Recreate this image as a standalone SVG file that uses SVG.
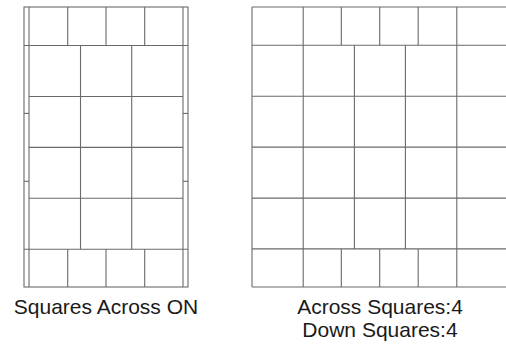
<svg xmlns="http://www.w3.org/2000/svg" width="506" height="345" viewBox="0 0 506 345">
<style>
.g line, .g rect { stroke: #6a6a6a; stroke-width: 1.1; fill: none; }
.t { font-family: "Liberation Sans", Arial, sans-serif; font-size: 21px; fill: #1a1a1a; text-anchor: middle; }
</style>
<rect width="506" height="345" fill="#ffffff"/>
<g id="left-diagram" class="g">
  <rect x="24" y="7" width="164" height="280"/>
  <line x1="29" y1="7" x2="29" y2="287"/>
  <line x1="183" y1="7" x2="183" y2="287"/>
  <line x1="24" y1="45.5" x2="188" y2="45.5"/>
  <line x1="24" y1="249.3" x2="188" y2="249.3"/>
  <line x1="29" y1="96.5" x2="183" y2="96.5"/>
  <line x1="29" y1="147.4" x2="183" y2="147.4"/>
  <line x1="29" y1="198.3" x2="183" y2="198.3"/>
  <line x1="24" y1="113.4" x2="29" y2="113.4"/>
  <line x1="24" y1="181.3" x2="29" y2="181.3"/>
  <line x1="183" y1="113.4" x2="188" y2="113.4"/>
  <line x1="183" y1="181.3" x2="188" y2="181.3"/>
  <line x1="67.7" y1="7" x2="67.7" y2="45.5"/>
  <line x1="106" y1="7" x2="106" y2="45.5"/>
  <line x1="144.7" y1="7" x2="144.7" y2="45.5"/>
  <line x1="67.7" y1="249.3" x2="67.7" y2="287"/>
  <line x1="106" y1="249.3" x2="106" y2="287"/>
  <line x1="144.7" y1="249.3" x2="144.7" y2="287"/>
  <line x1="80.5" y1="45.5" x2="80.5" y2="249.3"/>
  <line x1="131.7" y1="45.5" x2="131.7" y2="249.3"/>
</g>
<g id="right-diagram" class="g">
  <line x1="252" y1="7" x2="506" y2="7"/>
  <line x1="252" y1="45.3" x2="506" y2="45.3"/>
  <line x1="252" y1="96.3" x2="506" y2="96.3"/>
  <line x1="252" y1="147.1" x2="506" y2="147.1"/>
  <line x1="252" y1="198.1" x2="506" y2="198.1"/>
  <line x1="252" y1="248.9" x2="506" y2="248.9"/>
  <line x1="252" y1="287" x2="506" y2="287"/>
  <line x1="252" y1="7" x2="252" y2="287"/>
  <line x1="303.2" y1="7" x2="303.2" y2="287"/>
  <line x1="456.8" y1="7" x2="456.8" y2="287"/>
  <line x1="354.4" y1="45.3" x2="354.4" y2="248.9"/>
  <line x1="405.4" y1="45.3" x2="405.4" y2="248.9"/>
  <line x1="341.3" y1="7" x2="341.3" y2="45.3"/>
  <line x1="379.7" y1="7" x2="379.7" y2="45.3"/>
  <line x1="418.2" y1="7" x2="418.2" y2="45.3"/>
  <line x1="341.3" y1="248.9" x2="341.3" y2="287"/>
  <line x1="379.7" y1="248.9" x2="379.7" y2="287"/>
  <line x1="418.2" y1="248.9" x2="418.2" y2="287"/>
</g>
<g id="labels">
  <text class="t" x="106" y="314">Squares Across ON</text>
  <text class="t" x="380" y="314">Across Squares:4</text>
  <text class="t" x="380" y="336.5">Down Squares:4</text>
</g>
</svg>
